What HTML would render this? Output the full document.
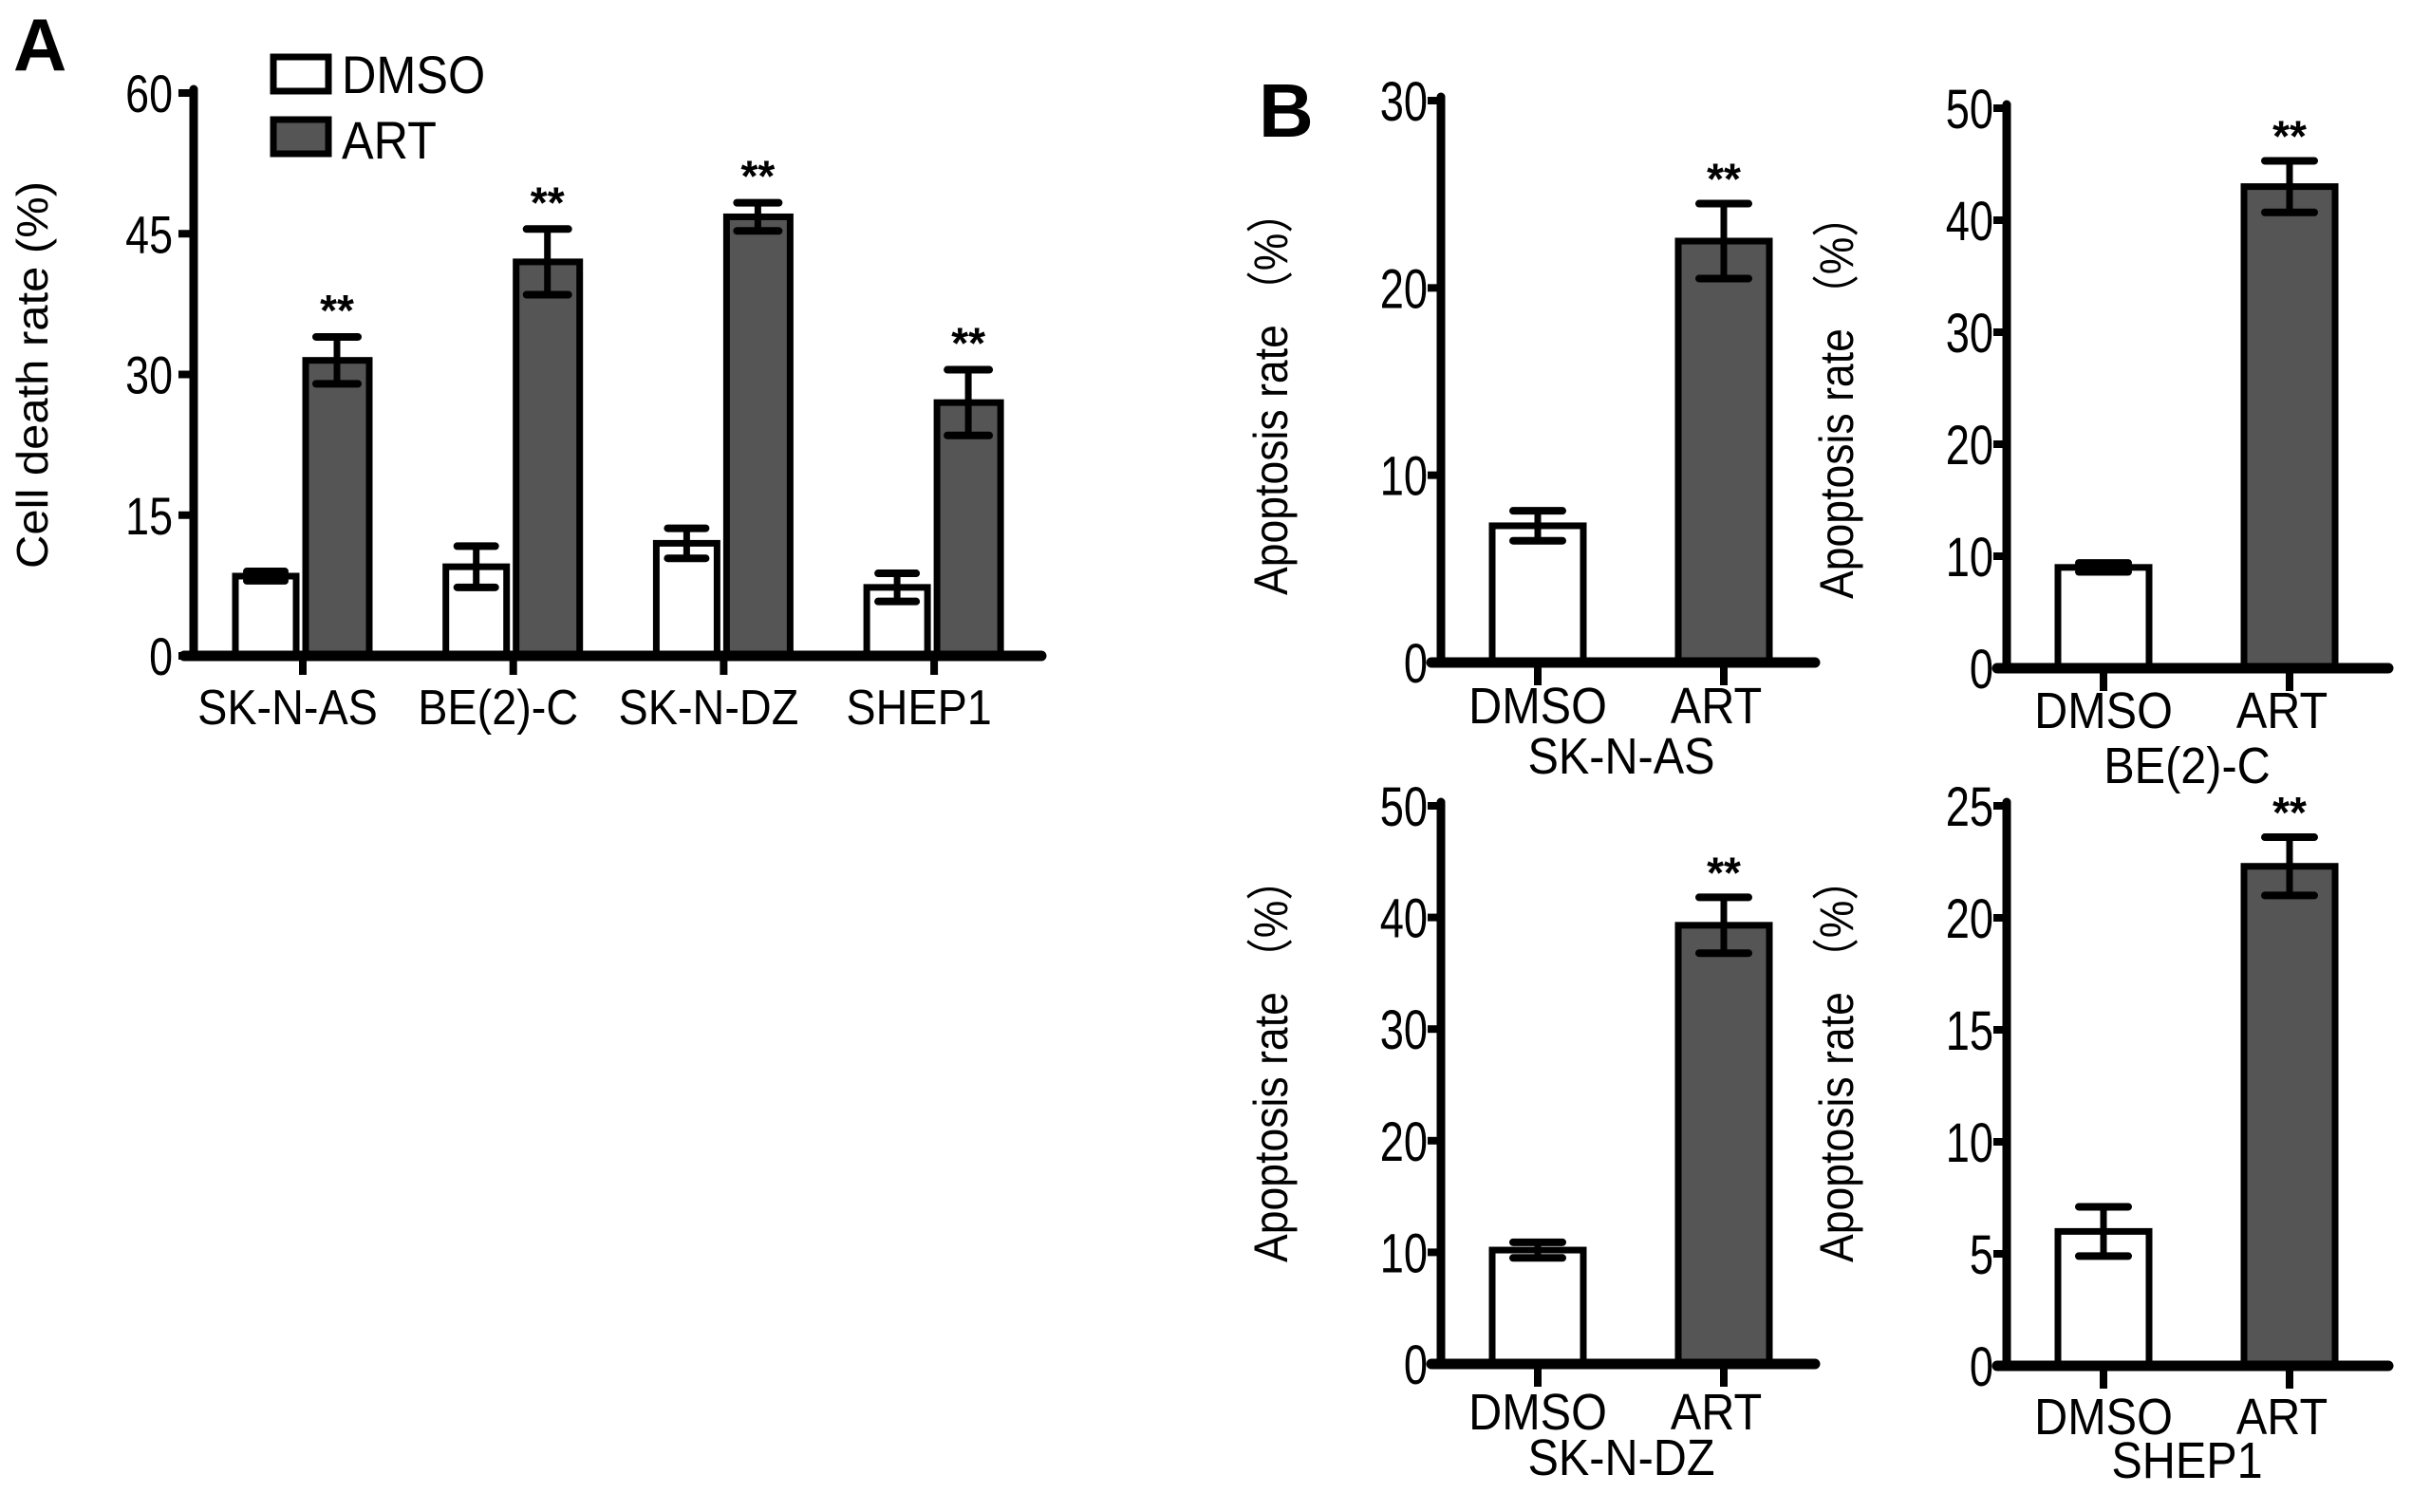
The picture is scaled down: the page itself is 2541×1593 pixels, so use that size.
<!DOCTYPE html>
<html><head><meta charset="utf-8"><style>
html,body{margin:0;padding:0;background:#fff;}
svg{display:block;}
text{font-family:"Liberation Sans",Arial,sans-serif;fill:#000;}
</style></head><body>
<svg id="fig" width="2541" height="1593" viewBox="0 0 2541 1593" xmlns="http://www.w3.org/2000/svg">
<rect width="2541" height="1593" fill="#fff"/>
<text x="14" y="74" font-size="78" font-weight="bold">A</text>
<text x="1326" y="144" font-size="80" font-weight="bold">B</text>
</svg>
<script>
// Panel A data
const aCategories = ["SK-N-AS","BE(2)-C","SK-N-DZ","SHEP1"];
const aDmso = [8.5, 9.5, 12, 7.3];
const aDmsoErr = [0.5, 2.2, 1.6, 1.5];
const aArt = [31.5, 42, 46.8, 27];
const aArtErr = [2.5, 3.5, 1.5, 3.5];
const aTicks = [0, 15, 30, 45, 60];
// Panel B data
const bCells = ["SK-N-AS","BE(2)-C","SK-N-DZ","SHEP1"];
const bDmso = [7.3, 9, 10.2, 6];
const bDmsoErr = [0.8, 0.4, 0.7, 1.1];
const bArt = [22.5, 43, 39.3, 22.3];
const bArtErr = [2.0, 2.3, 2.5, 1.3];
const bMax = [30, 50, 50, 25];
const bTicks = [[0,10,20,30],[0,10,20,30,40,50],[0,10,20,30,40,50],[0,5,10,15,20,25]];

const NS = "http://www.w3.org/2000/svg";
const svg = document.getElementById('fig');
function mk(tag, attrs, parent){
  const e = document.createElementNS(NS, tag);
  for (const k in attrs) e.setAttribute(k, attrs[k]);
  (parent||svg).appendChild(e);
  return e;
}
function txt(str, x, y, size, anchor, sx, parent){
  const t = mk('text', {x:0, y:0, 'font-size':size, 'text-anchor':anchor||'start',
    transform:`translate(${x},${y}) scale(${sx||1},1)`}, parent);
  t.textContent = str;
  return t;
}
function errbar(g, cx, yTop, yBot, half){
  const l1 = mk('line',{x1:cx,y1:yTop,x2:cx,y2:yBot,stroke:'#000','stroke-width':7}, g);
  
  
  const c1 = mk('line',{x1:cx-half,y1:yTop,x2:cx+half,y2:yTop,stroke:'#000','stroke-width':8,'stroke-linecap':'round'}, g);
  
  
  const c2 = mk('line',{x1:cx-half,y1:yBot,x2:cx+half,y2:yBot,stroke:'#000','stroke-width':8,'stroke-linecap':'round'}, g);
  
  
}

// ---------- Panel A ----------
(function(){
  const g = mk('g',{});
  
  
  const x0 = 204, x1 = 1097, yTop = 98, yZero = 691, vmax = 60;
  const y = v => yZero - (v / vmax) * (yZero - yTop);
  const groupTick = i => 319 + i * 221.7;
  aCategories.forEach((c, i) => {
    const gx = groupTick(i);
    const b1 = mk('rect',{x:gx-71,y:y(aDmso[i]),width:64,height:yZero-y(aDmso[i]),fill:'#fff',stroke:'#000','stroke-width':7}, g);
    
    
    const b2 = mk('rect',{x:gx+3,y:y(aArt[i]),width:67,height:yZero-y(aArt[i]),fill:'#555',stroke:'#000','stroke-width':7}, g);
    
    
    errbar(g, gx-39, y(aDmso[i]+aDmsoErr[i]), y(aDmso[i]-aDmsoErr[i]), 20);
    errbar(g, gx+36, y(aArt[i]+aArtErr[i]), y(aArt[i]-aArtErr[i]), 22);
    const st = txt('**', gx+36, y(aArt[i]+aArtErr[i]) - 12, 46, 'middle', 1, g);
    st.setAttribute('font-weight','bold');
    
    
    const lb = txt(c, gx-16, 763, 52, 'middle', 0.9, g);
    
    
    const tk = mk('line',{x1:gx,y1:yZero,x2:gx,y2:yZero+20,stroke:'#000','stroke-width':8}, g);
    
    
  });
  const ya = mk('line',{x1:x0,y1:yTop-4,x2:x0,y2:yZero,stroke:'#000','stroke-width':9,'stroke-linecap':'round'}, g);
  
  
  const xa = mk('line',{x1:x0-10,y1:yZero,x2:x1,y2:yZero,stroke:'#000','stroke-width':11,'stroke-linecap':'round'}, g);
  
  
  aTicks.forEach(t => {
    const tl = mk('line',{x1:x0-16,y1:y(t),x2:x0,y2:y(t),stroke:'#000','stroke-width':8}, g);
    
    
    const lab = txt(String(t), x0-22, y(t)+20, 56, 'end', 0.8, g);
    
    
  });
  const yl = mk('text',{x:0,y:0,'font-size':46,'text-anchor':'middle',textLength:408,lengthAdjust:'spacingAndGlyphs',transform:'translate(50,395) rotate(-90)'}, g);
  yl.textContent = 'Cell death rate (%)';
  
  
  const l1 = mk('rect',{x:288,y:60,width:58,height:36,fill:'#fff',stroke:'#000','stroke-width':7}, g);
  
  
  const l2 = mk('rect',{x:288,y:126,width:58,height:36,fill:'#555',stroke:'#000','stroke-width':7}, g);
  
  
  const t1 = txt('DMSO', 360, 98, 56, 'start', 0.9, g);
  
  
  const t2 = txt('ART', 360, 167, 56, 'start', 0.9, g);
  
  
})();

// ---------- Panel B ----------
const bLayout = [
  {ax:1518, top:106, zero:698, xend:1912, lab1:762, lab2:815, ylabY:414},
  {ax:2114, top:114, zero:704, xend:2516, lab1:767, lab2:825, ylabY:418},
  {ax:1518, top:849, zero:1437, xend:1912, lab1:1506, lab2:1554, ylabY:1117},
  {ax:2114, top:849, zero:1439, xend:2516, lab1:1511, lab2:1557, ylabY:1117}
];
bCells.forEach((cell, i) => {
  const L = bLayout[i];
  const g = mk('g',{});
  
  
  const vmax = bMax[i];
  const y = v => L.zero - (v / vmax) * (L.zero - L.top);
  const dx = L.ax + 102, ax2 = L.ax + 298;
  const b1 = mk('rect',{x:dx-48,y:y(bDmso[i]),width:96,height:L.zero-y(bDmso[i]),fill:'#fff',stroke:'#000','stroke-width':7}, g);
  
  
  const b2 = mk('rect',{x:ax2-48,y:y(bArt[i]),width:96,height:L.zero-y(bArt[i]),fill:'#555',stroke:'#000','stroke-width':7}, g);
  
  
  errbar(g, dx, y(bDmso[i]+bDmsoErr[i]), y(bDmso[i]-bDmsoErr[i]), 26);
  errbar(g, ax2, y(bArt[i]+bArtErr[i]), y(bArt[i]-bArtErr[i]), 26);
  const st = txt('**', ax2, y(bArt[i]+bArtErr[i]) - 10, 46, 'middle', 1, g);
  st.setAttribute('font-weight','bold');
  
  
  const ya = mk('line',{x1:L.ax,y1:L.top-4,x2:L.ax,y2:L.zero,stroke:'#000','stroke-width':9,'stroke-linecap':'round'}, g);
  
  
  const xa = mk('line',{x1:L.ax-10,y1:L.zero,x2:L.xend,y2:L.zero,stroke:'#000','stroke-width':11,'stroke-linecap':'round'}, g);
  
  
  [dx, ax2].forEach(xx => {
    const tk = mk('line',{x1:xx,y1:L.zero,x2:xx,y2:L.zero+24,stroke:'#000','stroke-width':8}, g);
    
    
  });
  bTicks[i].forEach(t => {
    const tl = mk('line',{x1:L.ax-14,y1:y(t),x2:L.ax,y2:y(t),stroke:'#000','stroke-width':8}, g);
    
    
    const lab = txt(String(t), L.ax-14, y(t)+21, 58, 'end', 0.78, g);
    
    
  });
  const d = txt('DMSO', dx, L.lab1, 54, 'middle', 0.9, g);
  
  
  const a = txt('ART', ax2 - 8, L.lab1, 54, 'middle', 0.9, g);
  
  
  const c = txt(cell, (dx+ax2)/2 - 10, L.lab2, 54, 'middle', 0.9, g);
  
  
  const yl = mk('text',{x:0,y:0,'font-size':50,'text-anchor':'middle',textLength:426,lengthAdjust:'spacingAndGlyphs',transform:`translate(${L.ax-162},${L.ylabY}) rotate(-90)`}, g);
  yl.setAttribute('font-family','"Liberation Sans","Noto Sans CJK SC",sans-serif');
  yl.textContent = 'Apoptosis rate （%）';
  
  
});
</script>
</body></html>
